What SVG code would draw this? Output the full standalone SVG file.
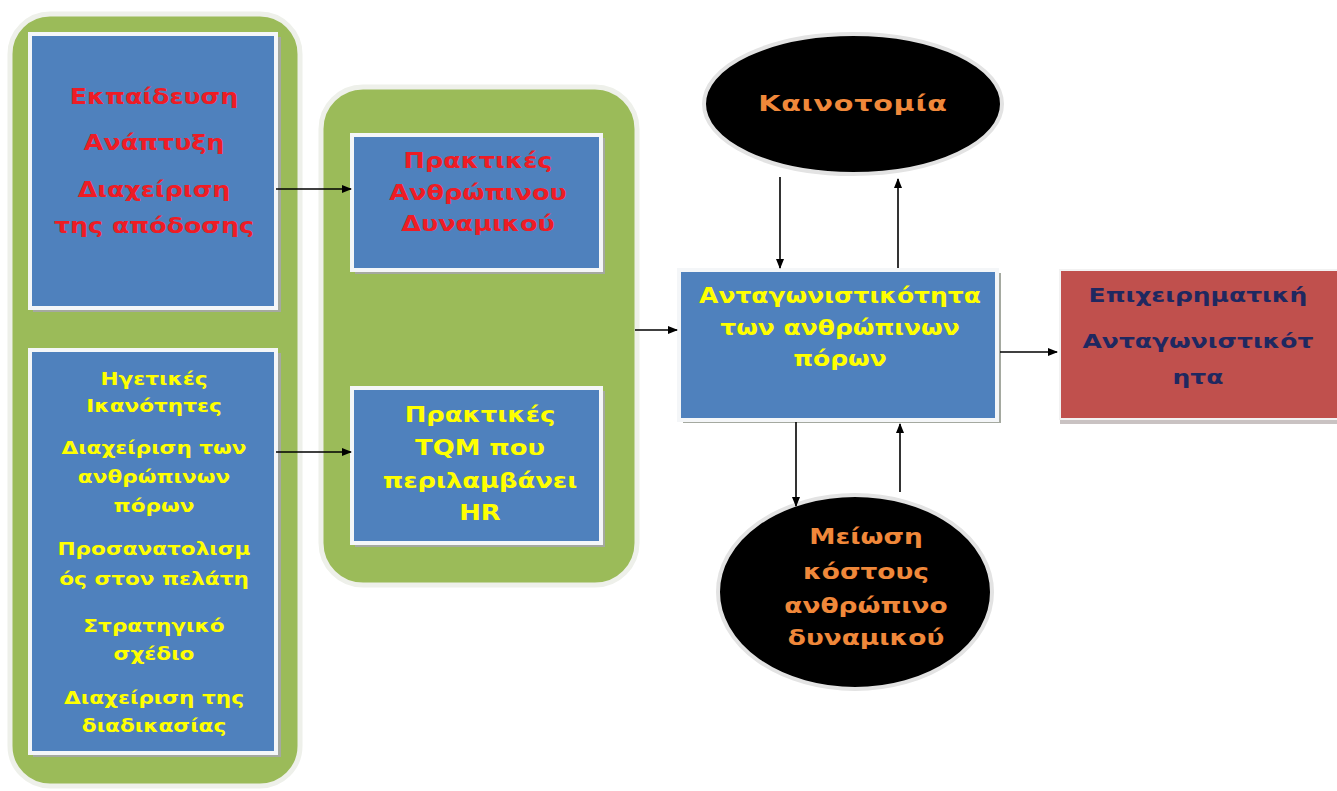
<svg xmlns="http://www.w3.org/2000/svg" width="1337" height="791" viewBox="0 0 1337 791">
<defs>
<style>
.green{fill:#9bbb59;stroke:#eef0ea;stroke-width:5}
.blue{fill:#4f81bd;stroke:#f4f6f8;stroke-width:4}
.shadow{fill:#a5a9a0}
.t{font-family:"DejaVu Sans",Verdana,sans-serif;font-weight:bold;text-anchor:middle}
.red{fill:#ee1c25;font-size:22px}
.yel{fill:#ffff00;font-size:18px}
.yel2{fill:#ffff00;font-size:21px}
.org{fill:#f0883a;font-size:22px}
.navy{fill:#1f2860;font-size:20px}
.ln{stroke:#000;stroke-width:1.6;fill:none;marker-end:url(#ah)}
</style>
<marker id="ah" markerWidth="10" markerHeight="8" refX="9" refY="4" orient="auto" markerUnits="userSpaceOnUse">
<path d="M0,0 L10,4 L0,8 Z" fill="#000"/>
</marker>
</defs>
<rect width="1337" height="791" fill="#fff"/>

<g id="left-container">
<rect x="10" y="14" width="290" height="772" rx="40" class="green"/>
<rect x="33" y="37" width="248" height="275" class="shadow"/>
<rect x="30" y="34" width="246" height="274" class="blue"/>
<rect x="33" y="353" width="248" height="404" class="shadow"/>
<rect x="30" y="350" width="246" height="403" class="blue"/>
</g>
<g id="left-top-text" class="t red" transform="translate(154,0) scale(1.15,1)">
<text x="0" y="104">Εκπαίδευση</text>
<text x="0" y="150">Ανάπτυξη</text>
<text x="0" y="197">Διαχείριση</text>
<text x="0" y="233">της απόδοσης</text>
</g>
<g id="left-bottom-text" class="t yel" transform="translate(154,0) scale(1.2,1)">
<text x="0" y="385">Ηγετικές</text>
<text x="0" y="412">Ικανότητες</text>
<text x="0" y="454">Διαχείριση των</text>
<text x="0" y="483">ανθρώπινων</text>
<text x="0" y="512">πόρων</text>
<text x="0" y="555">Προσανατολισμ</text>
<text x="0" y="585">ός στον πελάτη</text>
<text x="0" y="632">Στρατηγικό</text>
<text x="0" y="660">σχέδιο</text>
<text x="0" y="704">Διαχείριση της</text>
<text x="0" y="732">διαδικασίας</text>
</g>

<g id="middle-container">
<rect x="321" y="87" width="316" height="498" rx="42" class="green"/>
<rect x="355" y="138" width="250" height="136" class="shadow"/>
<rect x="352" y="135" width="249" height="135" class="blue"/>
<rect x="355" y="391" width="250" height="156" class="shadow"/>
<rect x="352" y="388" width="249" height="155" class="blue"/>
<g class="t red" transform="translate(478,0) scale(1.16,1)">
<text x="0" y="168">Πρακτικές</text>
<text x="0" y="200">Ανθρώπινου</text>
<text x="0" y="231">Δυναμικού</text>
</g>
<g class="t yel2" transform="translate(480,0) scale(1.23,1)">
<text x="0" y="422">Πρακτικές</text>
<text x="0" y="455">TQM που</text>
<text x="0" y="488">περιλαμβάνει</text>
<text x="0" y="520">HR</text>
</g>
</g>

<g id="center-box">
<rect x="683" y="273" width="318" height="150" class="shadow"/>
<rect x="679" y="270" width="318" height="150" class="blue"/>
<g class="t yel2" transform="translate(840,0) scale(1.19,1)">
<text x="0" y="303">Ανταγωνιστικότητα</text>
<text x="0" y="335">των ανθρώπινων</text>
<text x="0" y="366">πόρων</text>
</g>
</g>

<g id="red-box">
<rect x="1060" y="272" width="280" height="152" fill="#c9c2c2"/>
<rect x="1060" y="270" width="280" height="149" fill="#c0504d" stroke="#f2f2f2" stroke-width="2"/>
<g class="t navy" transform="translate(1198,0) scale(1.25,1)">
<text x="0" y="302">Επιχειρηματική</text>
<text x="0" y="348">Ανταγωνιστικότ</text>
<text x="0" y="384">ητα</text>
</g>
</g>

<g id="innovation">
<ellipse cx="853" cy="104" rx="149" ry="70" fill="#000" stroke="#e3e3e3" stroke-width="4"/>
<g class="t org" transform="translate(853,0) scale(1.3,1)">
<text x="0" y="111" style="letter-spacing:0.6px">Καινοτομία</text>
</g>
</g>

<g id="cost">
<ellipse cx="855" cy="592" rx="137" ry="97" fill="#000" stroke="#e3e3e3" stroke-width="4"/>
<g class="t org" transform="translate(866,0) scale(1.2,1)">
<text x="0" y="544">Μείωση</text>
<text x="0" y="579">κόστους</text>
<text x="0" y="613">ανθρώπινο</text>
<text x="0" y="645">δυναμικού</text>
</g>
</g>

<g id="connectors">
<line x1="276" y1="189" x2="351" y2="189" class="ln"/>
<line x1="276" y1="452" x2="351" y2="452" class="ln"/>
<line x1="635" y1="330" x2="677" y2="330" class="ln"/>
<line x1="780" y1="177" x2="780" y2="268" class="ln"/>
<line x1="898" y1="268" x2="898" y2="179" class="ln"/>
<line x1="796" y1="422" x2="796" y2="506" class="ln"/>
<line x1="900" y1="492" x2="900" y2="424" class="ln"/>
<line x1="1000" y1="352" x2="1057" y2="352" class="ln"/>
</g>
</svg>
